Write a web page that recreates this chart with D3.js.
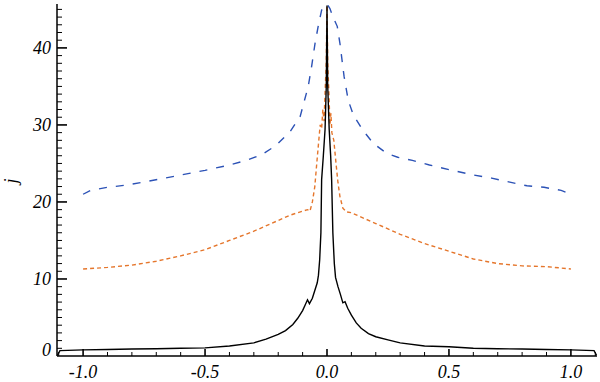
<!DOCTYPE html>
<html>
<head>
<meta charset="utf-8">
<script src="https://cdn.jsdelivr.net/npm/d3@7"></script>
<style>
	body { margin: 0; background: #fff; }
	text { font-family: "Liberation Serif", "Times New Roman", Times, serif; font-style: italic; }
</style>
</head>
<body>
<svg id="chart" width="600" height="382"></svg>
<script>

var xTicks = [-1.0, -0.5, 0.0, 0.5, 1.0];
var yTicks = [0, 10, 20, 30, 40];
var yLabel = "j";

// [x, j] pairs
var blackSeries = [
	[-1.105, 0.1], [-1.095, 0.7], [-1.0, 0.8], [-0.9, 0.85], [-0.8, 0.9], [-0.7, 0.95],
	[-0.6, 1.0], [-0.5, 1.05], [-0.4, 1.3], [-0.3, 1.7], [-0.25, 2.2], [-0.2, 2.8],
	[-0.17, 3.3], [-0.14, 4.1], [-0.12, 4.9], [-0.1, 5.9], [-0.09, 6.6], [-0.08, 7.3],
	[-0.072, 6.8], [-0.06, 7.5], [-0.05, 8.5], [-0.04, 9.5], [-0.035, 10.5], [-0.03, 12.5],
	[-0.025, 16], [-0.022, 22.9], [-0.015, 26], [-0.008, 29.4], [-0.003, 35], [0, 45.5],
	[0.003, 35], [0.009, 29.4], [0.015, 26], [0.019, 22.9], [0.024, 16], [0.03, 12],
	[0.035, 10.2], [0.045, 9], [0.055, 8], [0.065, 6.9], [0.074, 7.05], [0.085, 6.2],
	[0.1, 5.3], [0.12, 4.3], [0.14, 3.6], [0.17, 2.9], [0.2, 2.5], [0.25, 2.1],
	[0.3, 1.7], [0.4, 1.3], [0.5, 1.2], [0.6, 1.0], [0.7, 0.95], [0.8, 0.9],
	[0.9, 0.85], [1.0, 0.8], [1.095, 0.7], [1.105, 0.1]
];

var orangeSeries = [
	[-1.0, 11.3], [-0.95, 11.4], [-0.9, 11.5], [-0.8, 11.8], [-0.7, 12.3], [-0.6, 13.0],
	[-0.5, 13.8], [-0.4, 15.0], [-0.3, 16.2], [-0.2, 17.6], [-0.15, 18.3], [-0.1, 18.8],
	[-0.08, 19.0], [-0.07, 18.8], [-0.06, 20], [-0.05, 22], [-0.042, 25], [-0.035, 27.5],
	[-0.028, 30], [-0.022, 29.5], [-0.017, 32], [-0.012, 30.5], [-0.007, 35], [-0.003, 38],
	[0, 45.5], [0.003, 38], [0.008, 34], [0.012, 30], [0.016, 31.5], [0.02, 29],
	[0.028, 28], [0.037, 25], [0.045, 22.5], [0.053, 20.7], [0.065, 19.2], [0.08, 18.7],
	[0.1, 18.6], [0.135, 18.1], [0.2, 17.2], [0.3, 15.8], [0.4, 14.6], [0.5, 13.6],
	[0.6, 12.6], [0.7, 12.0], [0.8, 11.7], [0.9, 11.6], [1.0, 11.3]
];

var blueSeries = [
	[-1.0, 21.0], [-0.97, 21.5], [-0.9, 21.9], [-0.82, 22.2], [-0.75, 22.6], [-0.68, 23.0],
	[-0.6, 23.5], [-0.5, 24.1], [-0.4, 24.8], [-0.33, 25.4], [-0.27, 26.1], [-0.21, 27.3],
	[-0.15, 29.2], [-0.11, 31.1], [-0.077, 35], [-0.063, 37.6], [-0.049, 40.6], [-0.035, 43],
	[-0.022, 44.9], [0, 45.7], [0.012, 45.1], [0.025, 44], [0.042, 42.8], [0.053, 40.6],
	[0.07, 36.3], [0.087, 33.2], [0.108, 31.3], [0.145, 29.4], [0.19, 27.6], [0.245, 26.3],
	[0.29, 25.8], [0.35, 25.4], [0.42, 24.8], [0.5, 24.2], [0.6, 23.5], [0.675, 23.1],
	[0.745, 22.6], [0.82, 22.1], [0.89, 21.9], [0.96, 21.5], [1.0, 21.0]
];


var svg = d3.select("#chart");

var plotL = 57, plotR = 597, plotT = 4, plotB = 356;

var x = d3.scaleLinear().domain([-1.107, 1.107]).range([plotL, plotR]);
var y = d3.scaleLinear().domain([0, 45.7]).range([plotB, plotT]);

var line = d3.line()
	.x(function(d) { return x(d[0]); })
	.y(function(d) { return y(d[1]); });

svg.append("path")
	.datum(blueSeries)
	.attr("d", line)
	.attr("fill", "none")
	.attr("stroke", "#2c52b6")
	.attr("stroke-width", 1.4)
	.attr("stroke-dasharray", "8,9");

svg.append("path")
	.datum(orangeSeries)
	.attr("d", line)
	.attr("fill", "none")
	.attr("stroke", "#e5762c")
	.attr("stroke-width", 1.4)
	.attr("stroke-dasharray", "4,3");

svg.append("path")
	.datum(blackSeries)
	.attr("d", line)
	.attr("fill", "none")
	.attr("stroke", "#000")
	.attr("stroke-width", 1.4);

// axes, ticks point inwards
var axes = svg.append("g").attr("stroke", "#000");

axes.append("line")
	.attr("x1", plotL).attr("x2", plotL)
	.attr("y1", plotT).attr("y2", plotB)
	.attr("stroke-width", 1.5);
axes.append("line")
	.attr("x1", plotL).attr("x2", plotR)
	.attr("y1", plotB).attr("y2", plotB)
	.attr("stroke-width", 1.5);

var yMinor = d3.range(1, 46);
axes.selectAll("line.ymin")
	.data(yMinor)
	.enter()
	.append("line")
	.attr("x1", plotL).attr("x2", function(d) { return plotL + (d % 10 == 0 ? 10 : 5); })
	.attr("y1", function(d) { return y(d); })
	.attr("y2", function(d) { return y(d); })
	.attr("stroke-width", function(d) { return d % 10 == 0 ? 1.6 : 1; });

var xMinor = d3.range(-11, 12).map(function(i) { return i / 10; });
axes.selectAll("line.xmin")
	.data(xMinor)
	.enter()
	.append("line")
	.attr("x1", function(d) { return x(d); })
	.attr("x2", function(d) { return x(d); })
	.attr("y1", plotB)
	.attr("y2", function(d, i) { return plotB - ((i - 1) % 5 == 0 ? 7 : 4); })
	.attr("stroke-width", function(d, i) { return (i - 1) % 5 == 0 ? 1.6 : 1; });

svg.selectAll("text.ytick")
	.data(yTicks)
	.enter()
	.append("text")
	.attr("x", 51)
	.attr("y", function(d) { return Math.min(y(d) + 6, plotB); })
	.attr("text-anchor", "end")
	.attr("font-size", 18)
	.text(function(d) { return d; });

svg.selectAll("text.xtick")
	.data(xTicks)
	.enter()
	.append("text")
	.attr("x", function(d) { return x(d); })
	.attr("y", 378)
	.attr("text-anchor", "middle")
	.attr("font-size", 18)
	.text(function(d) { return d.toFixed(1); });

svg.append("text")
	.attr("transform", "translate(17,181) rotate(-90)")
	.attr("text-anchor", "middle")
	.attr("font-size", 18)
	.text(yLabel);

</script>
</body>
</html>
